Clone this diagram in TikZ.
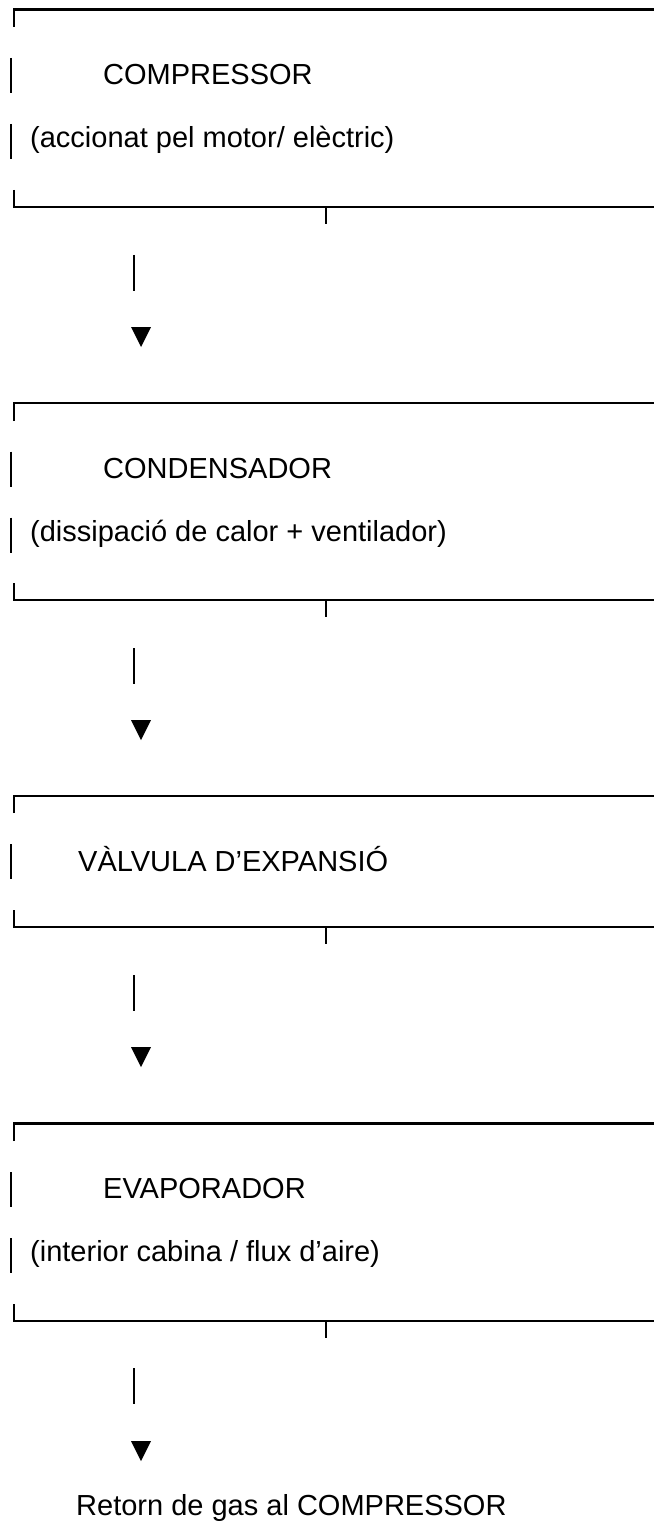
\documentclass[tikz,border=0pt]{standalone}
\usepackage{fontspec}
\setmainfont{Liberation Sans}
\tikzstyle{titol} = [anchor=base west, inner sep=0pt, font=\fontsize{29}{35}\selectfont]
\tikzstyle{linia} = [line width=2.4pt]
\tikzstyle{punta} = [fill=black]

\begin{document}
\begin{tikzpicture}[x=1pt, y=-1pt]
        \useasboundingbox (0,0) rectangle (654,1530);

        % compressor
        \node (comp) [titol] at (103,85) {COMPRESSOR};
        \node (compdesc) [titol] at (30,148) {(accionat pel motor/ elèctric)};
        \draw [linia] (14,27) -- (14,9.5) -- (654,9.5);
        \draw [linia] (11,58) -- (11,93);
        \draw [linia] (11,124) -- (11,159);
        \draw [linia] (14,190) -- (14,207) -- (654,207);
        \draw [linia] (326,207) -- (326,224);
        \coordinate (s1) at (134,255);
        \coordinate (e1) at (134,291);
        \coordinate (p1) at (141,347);
        \draw [linia] (s1) -- (e1);
        \fill [punta] (p1) -- ++(-10,-20) -- ++(20,0) -- cycle;

        % condensador
        \node (cond) [titol] at (103,478) {CONDENSADOR};
        \node (conddesc) [titol] at (30,541) {(dissipació de calor + ventilador)};
        \draw [linia] (14,421) -- (14,403) -- (654,403);
        \draw [linia] (11,451.5) -- (11,486.5);
        \draw [linia] (11,517.5) -- (11,552.5);
        \draw [linia] (14,583) -- (14,600) -- (654,600);
        \draw [linia] (326,600) -- (326,617);
        \coordinate (s2) at (134,648);
        \coordinate (e2) at (134,684);
        \coordinate (p2) at (141,740);
        \draw [linia] (s2) -- (e2);
        \fill [punta] (p2) -- ++(-10,-20) -- ++(20,0) -- cycle;

        % valvula
        \node (valv) [titol] at (78,871) {VÀLVULA D’EXPANSIÓ};
        \draw [linia] (14,813) -- (14,796) -- (654,796);
        \draw [linia] (11,844) -- (11,879);
        \draw [linia] (14,910) -- (14,927) -- (654,927);
        \draw [linia] (326,927) -- (326,944);
        \coordinate (s3) at (134,975);
        \coordinate (e3) at (134,1011);
        \coordinate (p3) at (141,1067);
        \draw [linia] (s3) -- (e3);
        \fill [punta] (p3) -- ++(-10,-20) -- ++(20,0) -- cycle;

        % evaporador
        \node (evap) [titol] at (103,1198) {EVAPORADOR};
        \node (evapdesc) [titol] at (30,1261) {(interior cabina / flux d’aire)};
        \draw [linia] (14,1141) -- (14,1123.5) -- (654,1123.5);
        \draw [linia] (11,1172) -- (11,1207);
        \draw [linia] (11,1238) -- (11,1273);
        \draw [linia] (14,1304) -- (14,1321) -- (654,1321);
        \draw [linia] (326,1321) -- (326,1338);
        \coordinate (s4) at (134,1368);
        \coordinate (e4) at (134,1404);
        \coordinate (p4) at (141,1461);
        \draw [linia] (s4) -- (e4);
        \fill [punta] (p4) -- ++(-10,-20) -- ++(20,0) -- cycle;

        \node (retorn) [titol] at (76,1515) {Retorn de gas al COMPRESSOR};
    \end{tikzpicture}
\end{document}
